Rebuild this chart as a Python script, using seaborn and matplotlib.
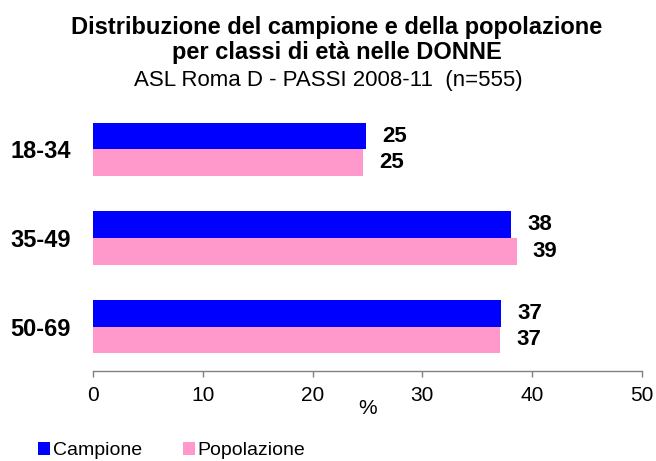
import pandas as pd
import numpy as np
import matplotlib
matplotlib.use('Agg')
import matplotlib.pyplot as plt
import seaborn as sns
from matplotlib.patches import Patch

# Data
classi = ['18-34', '35-49', '50-69']
campione = [24.9, 38.1, 37.2]
popolazione = [24.6, 38.6, 37.1]
serie = ['Campione', 'Popolazione']
colori = ['#0000FF', '#FF99CC']
xticks = [0, 10, 20, 30, 40, 50]

df = pd.DataFrame({
    'classe': classi * 2,
    'serie': [serie[0]] * len(classi) + [serie[1]] * len(classi),
    'valore': campione + popolazione,
})

sns.set_style('white')
plt.rcParams['font.family'] = ['Liberation Sans', 'DejaVu Sans']
plt.rcParams['text.color'] = 'black'
plt.rcParams['xtick.color'] = 'black'
plt.rcParams['ytick.color'] = 'black'
plt.rcParams['axes.labelcolor'] = 'black'

fig = plt.figure(figsize=(6.56, 4.61), dpi=100)
ax = fig.add_axes([0.1418, 0.1952, 0.8369, 0.577])

sns.barplot(data=df, y='classe', x='valore', hue='serie', orient='h',
            palette=colori, width=0.6, dodge=True, ax=ax, legend=False,
            saturation=1, edgecolor='none')

for cont in ax.containers:
    vals = [b.get_width() for b in cont]
    ax.bar_label(cont, labels=[f'{round(v):d}' for v in vals], padding=11.5,
                 fontsize=16, fontweight='bold', color='black')

ax.set_xlim(0, 50)
ax.set_ylim(2.5, -0.5)
ax.set_xticks(xticks)
ax.tick_params(axis='x', length=4.5, width=1, color='#808080', pad=6,
               labelsize=15, labelcolor='black', direction='out', bottom=True)
ax.tick_params(axis='y', length=0, pad=16, labelcolor='black')
for lab in ax.get_yticklabels():
    lab.set_fontweight('bold')
    lab.set_fontsize(17)
ax.set_ylabel('')
ax.set_xlabel('%', fontsize=15)
ax.xaxis.set_label_coords(0.5, -0.105)
for s in ['top', 'right', 'left']:
    ax.spines[s].set_visible(False)
ax.spines['bottom'].set_color('#808080')
ax.spines['bottom'].set_linewidth(1)

fig.text(0.513, 0.94, 'Distribuzione del campione e della popolazione',
         ha='center', va='center', fontsize=17, fontweight='bold')
fig.text(0.513, 0.886, 'per classi di età nelle DONNE',
         ha='center', va='center', fontsize=17, fontweight='bold')
fig.text(0.5, 0.826, 'ASL Roma D - PASSI 2008-11  (n=555)',
         ha='center', va='center', fontsize=16)

handles = [Patch(facecolor=c, edgecolor='none') for c in colori]
fig.legend(handles, serie, loc='center left', bbox_to_anchor=(0.046, 0.022),
           ncol=2, frameon=False, fontsize=14, handlelength=0.62,
           handleheight=0.62, handletextpad=0.15, columnspacing=2.1,
           borderaxespad=0)

fig.savefig('out.png', dpi=100)
